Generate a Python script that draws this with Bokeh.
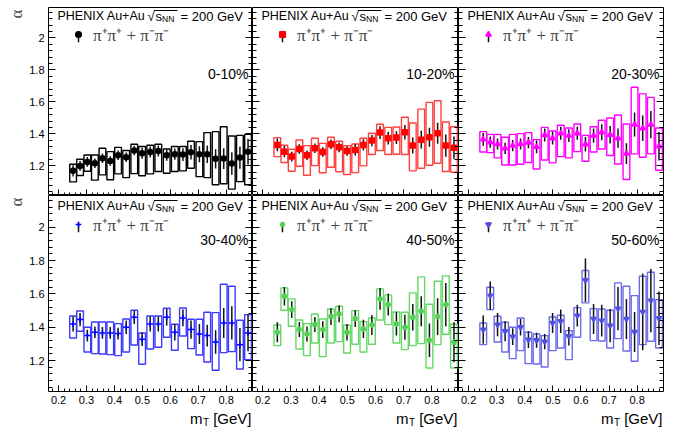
import math
from bokeh.plotting import figure
from bokeh.layouts import column, row
from bokeh.models import (Range1d, LinearAxis, SingleIntervalTicker, CustomJSTickFormatter,
                          Label, Legend, LegendItem, BoxAnnotation, ColumnDataSource, Title)
from bokeh.core.properties import value
from bokeh.embed import file_html
from bokeh.resources import INLINE

# ---------------- data ----------------
mt = [0.252, 0.277, 0.303, 0.330, 0.357, 0.385, 0.413, 0.442, 0.471, 0.499, 0.528, 0.557,
      0.587, 0.616, 0.645, 0.674, 0.704, 0.732, 0.762, 0.791, 0.820, 0.849, 0.878]

centralities = ["0-10%", "10-20%", "20-30%", "30-40%", "40-50%", "50-60%"]
legend_label = "π⁺π⁺ + π⁻π⁻"
y_title = "α"
x_title = ["m", "T", "[GeV]"]

alpha_0010 = [1.169, 1.200, 1.225, 1.217, 1.248, 1.231, 1.267, 1.254, 1.296, 1.279, 1.287, 1.293,
              1.267, 1.273, 1.271, 1.285, 1.273, 1.273, 1.244, 1.246, 1.215, 1.252, 1.289]
stat_0010 = [0.035, 0.03, 0.03, 0.03, 0.03, 0.03, 0.03, 0.03, 0.03, 0.035, 0.035, 0.035,
             0.035, 0.035, 0.04, 0.045, 0.05, 0.055, 0.06, 0.065, 0.07, 0.07, 0.08]
syshi_0010 = [1.210, 1.242, 1.268, 1.268, 1.310, 1.289, 1.316, 1.296, 1.335, 1.321, 1.329, 1.335,
              1.306, 1.321, 1.321, 1.354, 1.352, 1.408, 1.414, 1.445, 1.387, 1.391, 1.397]
syslo_0010 = [1.100, 1.140, 1.167, 1.111, 1.144, 1.113, 1.150, 1.127, 1.152, 1.138, 1.150, 1.165,
              1.154, 1.165, 1.169, 1.185, 1.133, 1.127, 1.082, 1.088, 1.055, 1.102, 1.082]

alpha_1020 = [1.331, 1.289, 1.258, 1.306, 1.267, 1.310, 1.287, 1.335, 1.316, 1.293, 1.300, 1.331,
              1.358, 1.408, 1.373, 1.377, 1.410, 1.327, 1.364, 1.379, 1.404, 1.327, 1.314]
stat_1020 = [0.04, 0.035, 0.03, 0.03, 0.03, 0.03, 0.03, 0.03, 0.03, 0.03, 0.035, 0.035,
             0.035, 0.04, 0.04, 0.04, 0.045, 0.05, 0.055, 0.06, 0.065, 0.07, 0.07]
syshi_1020 = [1.377, 1.329, 1.304, 1.362, 1.327, 1.373, 1.341, 1.379, 1.354, 1.327, 1.337, 1.373,
              1.404, 1.460, 1.441, 1.443, 1.504, 1.468, 1.555, 1.597, 1.607, 1.474, 1.445]
syslo_1020 = [1.258, 1.221, 1.167, 1.198, 1.142, 1.202, 1.157, 1.192, 1.163, 1.146, 1.158, 1.200,
              1.271, 1.296, 1.271, 1.273, 1.271, 1.169, 1.185, 1.204, 1.217, 1.165, 1.160]

alpha_2030 = [1.366, 1.348, 1.337, 1.310, 1.327, 1.337, 1.346, 1.319, 1.393, 1.373, 1.404, 1.389,
              1.404, 1.335, 1.389, 1.410, 1.395, 1.373, 1.277, 1.458, 1.435, 1.458, 1.323]
stat_2030 = [0.04, 0.035, 0.035, 0.035, 0.035, 0.035, 0.035, 0.04, 0.04, 0.04, 0.04, 0.04,
             0.04, 0.045, 0.045, 0.05, 0.055, 0.06, 0.065, 0.075, 0.08, 0.085, 0.09]
syshi_2030 = [1.414, 1.397, 1.397, 1.379, 1.397, 1.402, 1.408, 1.364, 1.441, 1.418, 1.454, 1.437,
              1.462, 1.391, 1.445, 1.485, 1.499, 1.518, 1.462, 1.692, 1.650, 1.628, 1.437]
syslo_2030 = [1.287, 1.283, 1.250, 1.206, 1.206, 1.210, 1.221, 1.181, 1.237, 1.219, 1.258, 1.250,
              1.289, 1.229, 1.287, 1.306, 1.265, 1.212, 1.115, 1.275, 1.254, 1.275, 1.173]

alpha_3040 = [1.420, 1.446, 1.350, 1.370, 1.366, 1.366, 1.362, 1.400, 1.460, 1.328, 1.420, 1.420,
              1.460, 1.370, 1.456, 1.386, 1.360, 1.350, 1.312, 1.426, 1.426, 1.296, 1.366]
stat_3040 = [0.045, 0.04, 0.035, 0.035, 0.035, 0.035, 0.035, 0.04, 0.04, 0.04, 0.045, 0.045,
             0.05, 0.05, 0.05, 0.055, 0.06, 0.065, 0.07, 0.09, 0.1, 0.1, 0.11]
syshi_3040 = [1.468, 1.498, 1.400, 1.432, 1.432, 1.432, 1.422, 1.450, 1.502, 1.366, 1.468, 1.468,
              1.514, 1.418, 1.516, 1.448, 1.448, 1.490, 1.488, 1.658, 1.646, 1.442, 1.476]
syslo_3040 = [1.336, 1.376, 1.252, 1.242, 1.240, 1.236, 1.230, 1.252, 1.294, 1.178, 1.270, 1.280,
              1.340, 1.262, 1.348, 1.272, 1.234, 1.192, 1.142, 1.248, 1.254, 1.150, 1.206]

alpha_4050 = [1.370, 1.586, 1.506, 1.386, 1.360, 1.416, 1.386, 1.464, 1.480, 1.370, 1.452, 1.390,
              1.414, 1.570, 1.536, 1.420, 1.400, 1.460, 1.496, 1.322, 1.464, 1.536, 1.310]
stat_4050 = [0.06, 0.055, 0.05, 0.045, 0.045, 0.045, 0.05, 0.05, 0.05, 0.05, 0.05, 0.055,
             0.06, 0.065, 0.065, 0.07, 0.075, 0.08, 0.09, 0.1, 0.11, 0.13, 0.12]
syshi_4050 = [1.414, 1.636, 1.570, 1.444, 1.422, 1.480, 1.450, 1.510, 1.526, 1.412, 1.500, 1.434,
              1.456, 1.630, 1.594, 1.492, 1.490, 1.606, 1.702, 1.538, 1.676, 1.708, 1.418]
syslo_4050 = [1.290, 1.502, 1.406, 1.270, 1.230, 1.306, 1.224, 1.306, 1.314, 1.246, 1.298, 1.252,
              1.298, 1.444, 1.416, 1.306, 1.266, 1.290, 1.302, 1.156, 1.296, 1.358, 1.156]

alpha_5060 = [1.386, 1.590, 1.416, 1.376, 1.344, 1.400, 1.326, 1.322, 1.314, 1.426, 1.436, 1.346,
              1.470, 1.682, 1.450, 1.440, 1.410, 1.512, 1.450, 1.372, 1.492, 1.560, 1.454]
stat_5060 = [0.085, 0.085, 0.07, 0.06, 0.05, 0.05, 0.05, 0.045, 0.045, 0.06, 0.07, 0.055,
             0.065, 0.13, 0.09, 0.095, 0.1, 0.13, 0.12, 0.12, 0.23, 0.19, 0.16]
syshi_5060 = [1.426, 1.640, 1.466, 1.430, 1.400, 1.456, 1.370, 1.360, 1.350, 1.462, 1.472, 1.380,
              1.518, 1.740, 1.512, 1.510, 1.502, 1.666, 1.646, 1.590, 1.706, 1.730, 1.566]
syslo_5060 = [1.296, 1.506, 1.312, 1.252, 1.212, 1.260, 1.182, 1.180, 1.162, 1.260, 1.276, 1.206,
              1.340, 1.546, 1.320, 1.318, 1.276, 1.332, 1.258, 1.196, 1.296, 1.316, 1.276]

# ---------------- styling ----------------
XMIN, XMAX = 0.164, 0.894
YMIN, YMAX = 1.015, 2.19
BOX_W = 0.024

series = [
    (alpha_0010, stat_0010, syshi_0010, syslo_0010),
    (alpha_1020, stat_1020, syshi_1020, syslo_1020),
    (alpha_2030, stat_2030, syshi_2030, syslo_2030),
    (alpha_3040, stat_3040, syshi_3040, syslo_3040),
    (alpha_4050, stat_4050, syshi_4050, syslo_4050),
    (alpha_5060, stat_5060, syshi_5060, syslo_5060),
]
styles = [
    dict(marker="circle", mc="black", bc="black", size=5),
    dict(marker="square", mc="#ff0000", bc="#ff4040", size=5),
    dict(marker="triangle", mc="#ff00ff", bc="#ff00ff", size=5),
    dict(marker="cross", mc="#0000ff", bc="#3a3aff", size=6),
    dict(marker="asterisk", mc="#55cc55", bc="#66d866", size=6),
    dict(marker="inverted_triangle", mc="#5050dd", bc="#6a6aea", size=5),
]

LEFT = 48          # left border (page x of first frame)
TOP = 7            # top border
RIGHT = 20
FW = [204, 206, 205]
FH = [188, 196]
BOTTOM = 16        # room for tick labels under the lower row
CAPTION_H = 24
TXT_DY = [8.7, 10.7]     # PHENIX line offset from frame top
LEG_DY = [29.7, 31.7]    # legend line offset
CEN_DY = [66.3, 44.7]    # centrality label offset
LEG_X = 23
GLYPH_W = 14
SANS = "Liberation Sans"
SERIF = "Liberation Serif"

fmt = CustomJSTickFormatter(code="return (Math.round(tick*10)/10).toString();")
blank = CustomJSTickFormatter(code="return '';")


def add_axis(p, side, ticker_interval, labels, tick_major, tick_minor):
    ax = LinearAxis(ticker=SingleIntervalTicker(interval=ticker_interval, num_minor_ticks=5))
    ax.axis_line_color = None
    ax.major_tick_in = tick_major
    ax.major_tick_out = 0
    ax.minor_tick_in = tick_minor
    ax.minor_tick_out = 0
    ax.major_tick_line_color = "black"
    ax.minor_tick_line_color = "black"
    if labels:
        ax.formatter = fmt
        ax.major_label_text_font = SANS
        ax.major_label_text_font_size = "11px"
        ax.major_label_text_color = "black"
        ax.major_label_standoff = 4
    else:
        ax.formatter = blank
        ax.major_label_text_font_size = "0px"
        ax.major_label_standoff = 0
    p.add_layout(ax, side)


def label(p, x, y, text, size, font=SANS, align="left"):
    p.add_layout(Label(x=x, y=y, x_units="screen", y_units="screen", text=text,
                       text_font=font, text_font_size=size, text_align=align,
                       text_baseline="middle", text_color="black"))


def screen_box(p, left, right, top, bottom, color="black"):
    p.add_layout(BoxAnnotation(left=left, right=right, top=top, bottom=bottom,
                               left_units="screen", right_units="screen",
                               top_units="screen", bottom_units="screen",
                               fill_color=color, fill_alpha=1.0, line_color=None))


def make_panel(k, rw, col):
    fw, fh = FW[col], FH[rw]
    bl = LEFT if col == 0 else 0
    br = RIGHT if col == 2 else 0
    bb = BOTTOM if rw == 1 else 0
    bt = TOP if rw == 0 else 0
    p = figure(width=fw + bl + br, height=fh + bb + bt,
               x_range=Range1d(XMIN, XMAX), y_range=Range1d(YMIN, YMAX),
               output_backend="svg", toolbar_location=None,
               x_axis_location=None, y_axis_location=None,
               min_border_left=bl, min_border_right=br, min_border_top=bt, min_border_bottom=bb)
    p.grid.visible = False
    p.outline_line_color = "black"
    p.outline_line_width = 1
    p.background_fill_color = "white"
    p.border_fill_color = "white"

    add_axis(p, "left", 0.2, col == 0, 7, 4)
    add_axis(p, "right", 0.2, False, 7, 4)
    add_axis(p, "below", 0.1, rw == 1, 6, 3)
    if col == 0:
        p.add_layout(Title(text=y_title, align="right", text_font=SERIF,
                           text_font_size="17px", text_font_style="normal",
                           standoff=2, offset=2), "left")

    a, s, hi, lo = series[k]
    st = styles[k]
    src = ColumnDataSource(dict(
        x=mt, a=a, hi=hi, lo=lo,
        el=[v - e for v, e in zip(a, s)], eh=[v + e for v, e in zip(a, s)],
        left=[x - BOX_W / 2 for x in mt], right=[x + BOX_W / 2 for x in mt]))
    p.quad(left="left", right="right", top="hi", bottom="lo", source=src,
           fill_color=None, line_color=st["bc"], line_width=1.4)
    p.segment(x0="x", y0="el", x1="x", y1="eh", source=src, line_color="#111111", line_width=1.5)
    sc = p.scatter("x", "a", source=src, marker=st["marker"], size=st["size"],
                   fill_color=st["mc"], line_color=st["mc"], line_width=1.5)

    # header text: PHENIX Au+Au sqrt(s_NN) = 200 GeV
    ty = fh - TXT_DY[rw]
    label(p, 9, ty, "PHENIX Au+Au", "12.5px")
    label(p, 99, ty, "√", "13px")
    label(p, 107, ty, "s", "13px")
    label(p, 113.5, ty - 3, "NN", "8.5px")
    label(p, 132, ty, "= 200 GeV", "13px")
    screen_box(p, 105.5, 129, ty + 6.2, ty + 5.2)

    # legend (with a small vertical error bar behind the marker)
    ly = fh - LEG_DY[rw]
    gx = LEG_X + GLYPH_W / 2
    screen_box(p, gx - 0.75, gx + 0.75, ly + 5, ly - 5, "#111111")
    leg = Legend(items=[LegendItem(label=value(legend_label), renderers=[sc])],
                 location=(LEG_X, ly - 9), orientation="vertical",
                 label_text_font=SERIF, label_text_font_size="17px",
                 glyph_width=GLYPH_W, glyph_height=18, label_height=18, label_standoff=8,
                 padding=0, margin=0, spacing=0,
                 border_line_color=None, background_fill_alpha=0)
    p.add_layout(leg)

    # centrality
    label(p, fw - 4, fh - CEN_DY[rw], centralities[k], "14px", align="right")
    return p


def make_caption():
    total_w = LEFT + sum(FW) + RIGHT
    c = figure(width=total_w, height=CAPTION_H, x_range=Range1d(0, 1), y_range=Range1d(0, 1),
               output_backend="svg", toolbar_location=None,
               x_axis_location=None, y_axis_location=None,
               min_border_left=0, min_border_right=0, min_border_top=0, min_border_bottom=0)
    c.grid.visible = False
    c.outline_line_color = None
    right_edge = LEFT
    yc = CAPTION_H - 11
    for fw in FW:
        right_edge += fw
        label(c, right_edge - 50, yc, x_title[0], "15px", align="right")
        label(c, right_edge - 43.5, yc - 3.5, x_title[1], "10px", align="right")
        label(c, right_edge - 1, yc, x_title[2], "15px", align="right")
    return c


rows = []
for rw in range(2):
    rows.append(row(*[make_panel(rw * 3 + col, rw, col) for col in range(3)], spacing=0))
rows.append(make_caption())
layout = column(*rows, spacing=0)

open("out.html", "w").write(file_html(layout, INLINE))
